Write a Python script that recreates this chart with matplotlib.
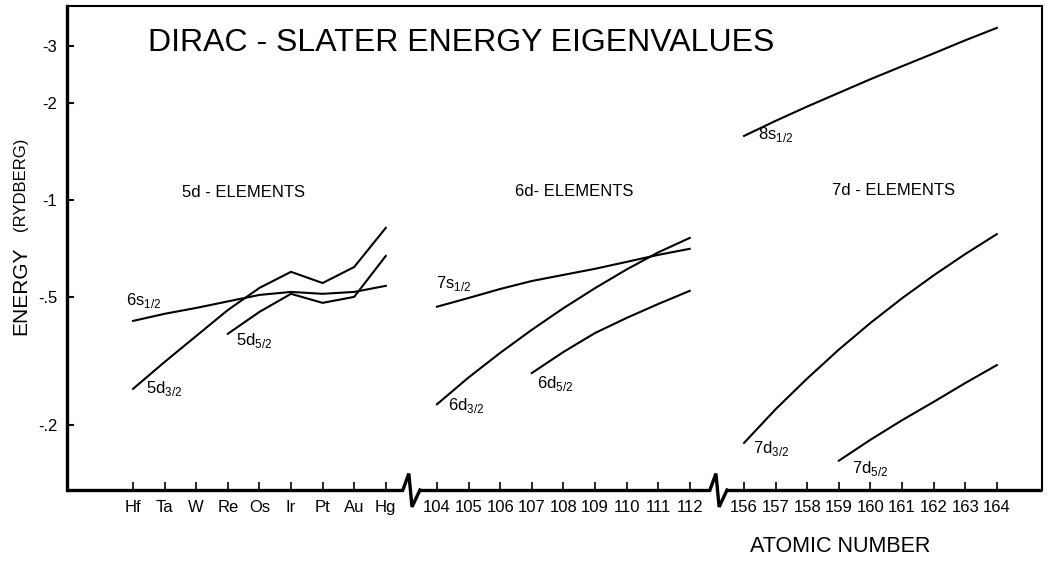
import numpy as np
import matplotlib.pyplot as plt
from matplotlib.ticker import FixedLocator, NullLocator

# element / atomic-number labels for the three d-series
elements_5d = ['Hf', 'Ta', 'W', 'Re', 'Os', 'Ir', 'Pt', 'Au', 'Hg']
z_6d = ['104', '105', '106', '107', '108', '109', '110', '111', '112']
z_7d = ['156', '157', '158', '159', '160', '161', '162', '163', '164']

# |eigenvalue| in Rydberg (plotted as negative energies on a log axis)
e_6s12 = [0.421, 0.443, 0.462, 0.484, 0.507, 0.518, 0.511, 0.518, 0.541]
e_5d32 = [0.259, 0.314, 0.378, 0.455, 0.533, 0.598, 0.552, 0.619, 0.819]
e_5d52 = [0.384, 0.449, 0.511, 0.479, 0.500, 0.670]          # Re .. Hg

e_7s12 = [0.466, 0.496, 0.529, 0.560, 0.585, 0.611, 0.642, 0.675, 0.705]
e_6d32 = [0.232, 0.281, 0.335, 0.395, 0.461, 0.532, 0.608, 0.687, 0.762]
e_6d52 = [0.290, 0.337, 0.386, 0.430, 0.475, 0.522]          # 107 .. 112

e_8s12 = [1.58, 1.76, 1.95, 2.15, 2.37, 2.60, 2.85, 3.13, 3.42]
e_7d32 = [0.176, 0.224, 0.279, 0.343, 0.415, 0.495, 0.583, 0.679, 0.783]
e_7d52 = [0.155, 0.180, 0.207, 0.236, 0.270, 0.307]          # 159 .. 164

ytick_vals = [3, 2, 1, 0.5, 0.2]
ytick_labels = ['-3', '-2', '-1', '-.5', '-.2']

# x layout: three blocks of 9 unit-spaced positions with gaps for the breaks
x5 = np.arange(9) + 0.0
x6 = np.arange(9) + 9.62
x7 = np.arange(9) + 19.34

plt.rcParams['font.family'] = ['Liberation Sans', 'DejaVu Sans']
plt.rcParams['mathtext.fontset'] = 'custom'
plt.rcParams['mathtext.rm'] = 'Liberation Sans'

fig = plt.figure(figsize=(10.49, 5.63), dpi=100)
ax = fig.add_axes([67 / 1049, 73 / 563, 975 / 1049, 484 / 563])

ax.set_yscale('log')
ax.set_xlim(-2.09, 28.77)
ax.set_ylim(0.1257, 4.0)

lw = 1.5
ax.plot(x5, e_6s12, color='black', lw=lw)
ax.plot(x5, e_5d32, color='black', lw=lw)
ax.plot(x5[3:], e_5d52, color='black', lw=lw)
ax.plot(x6, e_7s12, color='black', lw=lw)
ax.plot(x6, e_6d32, color='black', lw=lw)
ax.plot(x6[3:], e_6d52, color='black', lw=lw)
ax.plot(x7, e_8s12, color='black', lw=lw)
ax.plot(x7, e_7d32, color='black', lw=lw)
ax.plot(x7[3:], e_7d52, color='black', lw=lw)

# curve labels
lab = dict(fontsize=12, va='baseline', ha='left')
ax.text(-0.22, 0.472, r'6s$_{1/2}$', **lab)
ax.text(3.26, 0.355, r'5d$_{5/2}$', **lab)
ax.text(0.41, 0.252, r'5d$_{3/2}$', **lab)
ax.text(9.59, 0.533, r'7s$_{1/2}$', **lab)
ax.text(12.78, 0.261, r'6d$_{5/2}$', **lab)
ax.text(9.97, 0.223, r'6d$_{3/2}$', **lab)
ax.text(19.78, 1.546, r'8s$_{1/2}$', **lab)
ax.text(19.62, 0.164, r'7d$_{3/2}$', **lab)
ax.text(22.75, 0.142, r'7d$_{5/2}$', **lab)

# block headings
ax.text(1.55, 1.055, '5d - ELEMENTS', fontsize=12, va='center', ha='left')
ax.text(12.09, 1.063, '6d- ELEMENTS', fontsize=12, va='center', ha='left')
ax.text(22.12, 1.07, '7d - ELEMENTS', fontsize=12, va='center', ha='left')

ax.text(0.083, 0.9236, 'DIRAC - SLATER ENERGY EIGENVALUES', transform=ax.transAxes,
        fontsize=23, va='center', ha='left')

# y axis
ax.yaxis.set_major_locator(FixedLocator(ytick_vals))
ax.yaxis.set_minor_locator(NullLocator())
ax.set_yticklabels(ytick_labels, fontsize=12)
ax.tick_params(axis='y', direction='in', length=5, width=1.5, pad=7)

# x axis
ax.set_xticks(np.concatenate([x5, x6, x7]))
ax.set_xticklabels(elements_5d + z_6d + z_7d, fontsize=12)
ax.tick_params(axis='x', direction='in', length=6, width=1.2, pad=7)

for side in ['top', 'right']:
    ax.spines[side].set_linewidth(1.5)
ax.spines['left'].set_linewidth(2.4)
ax.spines['bottom'].set_visible(False)

# bottom axis drawn in pieces with zig-zag breaks between the blocks
tr = ax.get_xaxis_transform()
xmin, xmax = ax.get_xlim()
gaps = [(x5[-1] + x6[0]) / 2, (x6[-1] + x7[0]) / 2 + 0.05]
starts = [xmin] + [g + 0.27 for g in gaps]
ends = [g - 0.27 for g in gaps] + [xmax]
for s, e in zip(starts, ends):
    ax.plot([s, e], [0, 0], color='black', lw=2.4, transform=tr,
            clip_on=False, solid_capstyle='butt')
for g in gaps:
    ax.plot([g - 0.27, g - 0.08, g + 0.02, g + 0.27], [0, 0.034, -0.035, 0],
            color='black', lw=2.4, transform=tr, clip_on=False,
            solid_joinstyle='miter')

# axis titles
fig.text(21 / 1049, 1 - 184 / 563, '(RYDBERG)', rotation=90, fontsize=12,
         ha='center', va='center')
fig.text(21 / 1049, 1 - 291 / 563, 'ENERGY', rotation=90, fontsize=15,
         ha='center', va='center')
fig.text(840 / 1049, 1 - 547 / 563, 'ATOMIC NUMBER', fontsize=15.5,
         ha='center', va='center')

fig.savefig('out.png', dpi=100, facecolor='white')
